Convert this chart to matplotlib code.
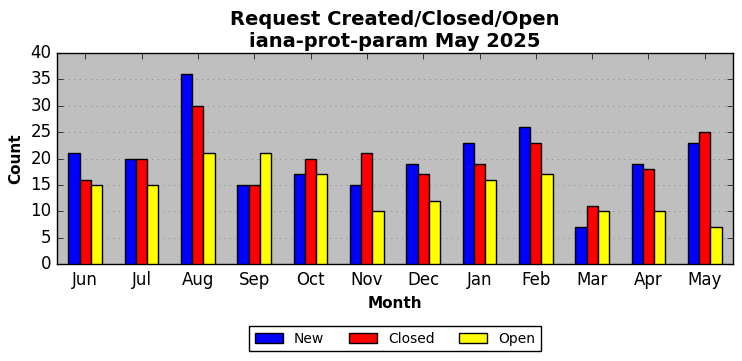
import matplotlib
matplotlib.use("Agg")
import matplotlib.pyplot as plt
import numpy as np

months = ["Jun", "Jul", "Aug", "Sep", "Oct", "Nov", "Dec", "Jan", "Feb", "Mar", "Apr", "May"]
new = [21, 20, 36, 15, 17, 15, 19, 23, 26, 7, 19, 23]
closed = [16, 20, 30, 15, 20, 21, 17, 19, 23, 11, 18, 25]
open_ = [15, 15, 21, 21, 17, 10, 12, 16, 17, 10, 10, 7]

plt.style.use("classic")
fig = plt.figure(figsize=(7.42, 3.61), dpi=100)
fig.patch.set_facecolor("white")
ax = fig.add_axes([57/742, 1 - 264/361, 676/742, 211/361])
ax.set_facecolor("#bfbfbf")

x = np.arange(len(months))
w = 0.2
ax.bar(x - w, new, w, color="blue", edgecolor="black", label="New", zorder=3)
ax.bar(x, closed, w, color="red", edgecolor="black", label="Closed", zorder=3)
ax.bar(x + w, open_, w, color="yellow", edgecolor="black", label="Open", zorder=3)

ax.set_xlim(-0.5, len(months) - 0.5)
ax.set_ylim(0, 40)
ax.set_yticks(range(0, 41, 5))
ax.set_xticks(x)
ax.set_xticklabels(months)
ax.tick_params(axis="both", labelsize=12)
ax.tick_params(axis="x", pad=5)
ax.yaxis.grid(True, linestyle=":", color="#888888", zorder=0)
ax.xaxis.grid(False)
ax.set_axisbelow(True)

ax.set_xlabel("Month", fontsize=11, fontweight="bold")
ax.set_ylabel("Count", fontsize=11, fontweight="bold")
ax.set_title("Request Created/Closed/Open\niana-prot-param May 2025", fontsize=14, fontweight="bold", y=0.995)

ax.legend(loc="upper center", ncol=3, fontsize=10, bbox_to_anchor=(0.5, -0.262),
          frameon=True, fancybox=False, columnspacing=1.8)

fig.savefig("out.png", dpi=100, facecolor="white")
